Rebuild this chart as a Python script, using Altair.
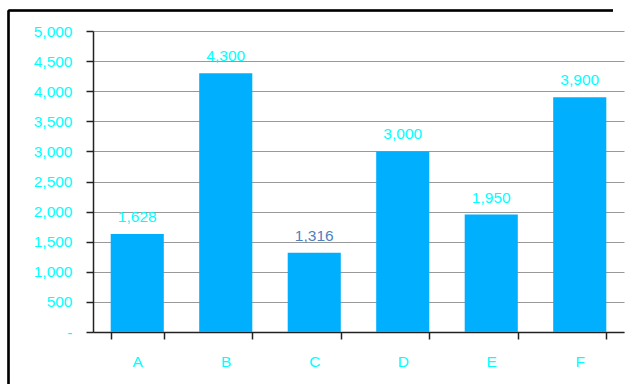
import altair as alt
import pandas as pd

# Category totals with their value-label colours
categories = ["A", "B", "C", "D", "E", "F"]
values = [1628, 4300, 1316, 3000, 1950, 3900]
label_colors = ["#00FFFF", "#00FFFF", "#4F81BD", "#00FFFF", "#00FFFF", "#00FFFF"]
y_ticks = [0, 500, 1000, 1500, 2000, 2500, 3000, 3500, 4000, 4500, 5000]

df = pd.DataFrame({"cat": categories, "val": values, "lc": label_colors})

FONT = "Liberation Sans"
W, H = 531, 301

x_enc = alt.X(
    "cat:N",
    sort=categories,
    scale=alt.Scale(paddingInner=0.4, paddingOuter=0.2),
    axis=alt.Axis(
        title=None, labelAngle=0, tickBand="extent", tickSize=7,
        labelPadding=15, labelColor="#00FFFF", labelFont=FONT, labelFontSize=15.5,
        domainColor="#222222", tickColor="#222222", domainWidth=1.5, tickWidth=1.5,
        grid=False,
    ),
)
y_enc = alt.Y(
    "val:Q",
    scale=alt.Scale(domain=[0, 5000], nice=False),
    axis=alt.Axis(
        title=None, values=y_ticks, tickCount=11, labelOverlap=False, tickSize=7,
        labelPadding=14,
        labelExpr="datum.value == 0 ? '-' : format(datum.value, ',')",
        labelColor="#00FFFF", labelFont=FONT, labelFontSize=15.5,
        domainColor="#222222", tickColor="#222222", domainWidth=1.5, tickWidth=1.5,
        grid=True, gridColor="#999999", gridWidth=1.2,
    ),
)

bars = alt.Chart(df).mark_bar(color="#00B0FF").encode(x=x_enc, y=y_enc)

labels = alt.Chart(df).mark_text(
    font=FONT, fontSize=15.5, baseline="middle", dy=-17
).encode(
    x=alt.X("cat:N", sort=categories),
    y="val:Q",
    text=alt.Text("val:Q", format=","),
    color=alt.Color("lc:N", scale=None),
)

# Outer frame around the chart: top and left edges only
frame_top = alt.Chart(df).mark_rule(color="#000000", strokeWidth=1.5).encode(
    x=alt.value(-84.5), x2=alt.value(520), y=alt.value(-20.5)
)
frame_left = alt.Chart(df).mark_rule(color="#000000", strokeWidth=1.5).encode(
    x=alt.value(-84.5), y=alt.value(-20.5), y2=alt.value(353)
)

chart = alt.layer(bars, labels, frame_top, frame_left).properties(
    width=W, height=H,
    autosize=alt.AutoSizeParams(type="none"),
    padding={"left": 93, "top": 31, "right": 11, "bottom": 52},
    background="#FFFFFF",
).configure_view(stroke=None)

chart.save("out.html", embed_options={"renderer": "svg", "actions": False})
